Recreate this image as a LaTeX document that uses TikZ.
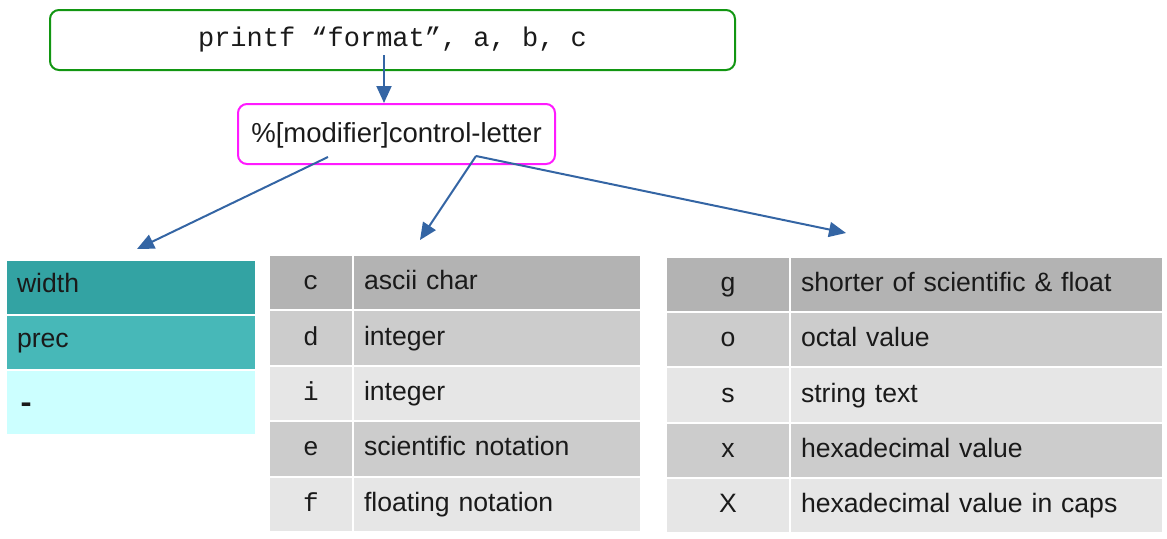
\documentclass[tikz,border=0pt]{standalone}
\usepackage{fontspec}
\setmainfont{Liberation Sans}
\setmonofont{Liberation Mono}
\usetikzlibrary{arrows.meta}
\definecolor{arrowblue}{HTML}{3465A4}
\definecolor{boxgreen}{HTML}{129612}
\definecolor{boxmag}{HTML}{FF1AFF}
\definecolor{tealA}{HTML}{33A3A3}
\definecolor{tealB}{HTML}{47B8B8}
\definecolor{tealC}{HTML}{CCFFFF}
\definecolor{grayA}{HTML}{B3B3B3}
\definecolor{grayB}{HTML}{CCCCCC}
\definecolor{grayC}{HTML}{E6E6E6}
\definecolor{txt}{HTML}{1A1A1A}
\tikzset{
  conn/.style={draw=arrowblue, line width=2pt, -{Triangle[length=17pt,width=15pt]}},
  cell/.style={draw=white, line width=2pt, anchor=north west, inner xsep=0pt, inner ysep=0pt,
    text height=19pt, text depth=5pt, font=\fontsize{26.6}{30}\selectfont, text=txt},
  keym/.style={cell, font=\fontsize{26}{30}\ttfamily, align=center},
  descr/.style={cell, inner xsep=11pt, align=left},
}
\begin{document}
\begin{tikzpicture}[x=1pt,y=-1pt]
\useasboundingbox (0,0) rectangle (1167,538);

% top boxes
\node[draw=boxgreen, line width=2pt, rounded corners=9pt, minimum width=685pt, minimum height=60pt,
  font=\fontsize{27}{30}\ttfamily, text=txt] (prog) at (392.5,40) {printf “format”, a, b, c};
\node[draw=boxmag, line width=2pt, rounded corners=9pt, minimum width=317pt, minimum height=60pt,
  font=\fontsize{27.5}{30}\selectfont, text=txt, text depth=3pt] (fmt) at (396.5,134) {\%[modifier]control-letter};

% left table
\node[descr, fill=tealA, minimum width=250pt, text width=228pt, minimum height=55pt, text depth=10pt] (w) at (5,259) {width};
\node[descr, fill=tealB, minimum width=250pt, text width=228pt, minimum height=55pt, text depth=10pt] (p) at (5,314) {prec};
\node[descr, fill=tealC, minimum width=250pt, text width=228pt, minimum height=65pt, text depth=0pt,
  inner xsep=10pt, font=\fontsize{30}{30}\ttfamily\bfseries] (m) at (5,369) {-};

% middle table
\node[keym, fill=grayA, minimum width=84pt, minimum height=55.4pt] (kc) at (268,254) {c};
\node[descr, fill=grayA, text width=266pt, minimum height=55.4pt] (dc) at (352,254) {ascii char};
\node[keym, fill=grayB, minimum width=84pt, minimum height=55.4pt] (kd) at (268,309.4) {d};
\node[descr, fill=grayB, text width=266pt, minimum height=55.4pt] (dd) at (352,309.4) {integer};
\node[keym, fill=grayC, minimum width=84pt, minimum height=55.4pt] (ki) at (268,364.8) {i};
\node[descr, fill=grayC, text width=266pt, minimum height=55.4pt] (di) at (352,364.8) {integer};
\node[keym, fill=grayB, minimum width=84pt, minimum height=55.4pt] (ke) at (268,420.2) {e};
\node[descr, fill=grayB, text width=266pt, minimum height=55.4pt] (de) at (352,420.2) {scientific notation};
\node[keym, fill=grayC, minimum width=84pt, minimum height=55.4pt] (kf) at (268,475.6) {f};
\node[descr, fill=grayC, text width=266pt, minimum height=55.4pt] (df) at (352,475.6) {floating notation};

% right table
\node[cell, fill=grayA, minimum width=124pt, minimum height=55.2pt] (kg) at (665,256) {g};
\node[descr, fill=grayA, text width=351pt, minimum height=55.2pt] (dg) at (789,256) {shorter of scientific \& float};
\node[cell, fill=grayB, minimum width=124pt, minimum height=55.2pt] (ko) at (665,311.2) {o};
\node[descr, fill=grayB, text width=351pt, minimum height=55.2pt] (do) at (789,311.2) {octal value};
\node[cell, fill=grayC, minimum width=124pt, minimum height=55.2pt] (ks) at (665,366.4) {s};
\node[descr, fill=grayC, text width=351pt, minimum height=55.2pt] (ds) at (789,366.4) {string text};
\node[cell, fill=grayB, minimum width=124pt, minimum height=55.2pt] (kx) at (665,421.6) {x};
\node[descr, fill=grayB, text width=351pt, minimum height=55.2pt] (dx) at (789,421.6) {hexadecimal value};
\node[cell, fill=grayC, minimum width=124pt, minimum height=55.2pt] (kX) at (665,476.8) {X};
\node[descr, fill=grayC, text width=351pt, minimum height=55.2pt] (dX) at (789,476.8) {hexadecimal value in caps};

% connectors
\coordinate (s1) at (384,55);
\coordinate (e1) at (384,103);
\coordinate (s2) at (328,157);
\coordinate (e2) at (137,249);
\coordinate (s3) at (476,156);
\coordinate (e3) at (420,240);
\coordinate (e4) at (846,233);
\draw[conn] (s1) -- (e1);
\draw[conn] (s2) -- (e2);
\draw[conn] (s3) -- (e3);
\draw[conn] (s3) -- (e4);
\end{tikzpicture}
\end{document}
